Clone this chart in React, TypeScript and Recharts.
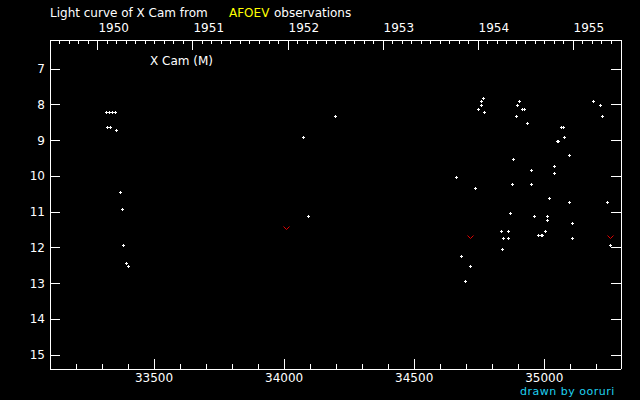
import { ScatterChart, Scatter, XAxis, YAxis } from "recharts";

// visual observations (JD - 2400000, magnitude)
const obsJd = [
  33316, 33327, 33337, 33348, 33320, 33331, 33354, 33369, 33377, 33381, 33392, 33400,
  34196, 34073, 34092,
  34765, 34758, 34758, 34746, 34769, 34904, 34896, 34915, 34923, 34892, 34935,
  35188, 35215, 35223, 35065, 35073, 35077, 35050, 35054, 35096, 34881, 34950,
  35038, 35038, 34662, 34735, 34877, 34950, 35019, 35096, 35242, 34869, 34962,
  35012, 35012, 35108, 34835, 34862, 35004, 34977, 34988, 34992, 34842, 34862,
  35108, 34838, 35254, 34681, 34715, 34696,
];
const obsMag = [
  8.21, 8.21, 8.21, 8.21, 8.64, 8.64, 8.72, 10.44, 10.93, 11.94, 12.44, 12.53,
  8.33, 8.92, 11.13,
  7.83, 7.91, 8.03, 8.14, 8.22, 7.91, 8.03, 8.14, 8.14, 8.33, 8.53,
  7.91, 8.03, 8.33, 8.64, 8.64, 8.92, 9.03, 9.03, 9.42, 9.54, 9.84,
  9.73, 9.93, 10.04, 10.35, 10.24, 10.24, 10.63, 10.74, 10.74, 11.05, 11.13,
  11.13, 11.24, 11.32, 11.55, 11.55, 11.55, 11.64, 11.64, 11.64, 11.75, 11.75,
  11.75, 12.05, 11.94, 12.25, 12.53, 12.95,
];

// "fainter than" observations
const limitJd = [34008, 34714, 35252];
const limitMag = [11.46, 11.71, 11.72];

const jdLabels = [33500, 34000, 34500, 35000];
const yearLabels = [1950, 1951, 1952, 1953, 1954, 1955];
const magTicks = [7, 8, 9, 10, 11, 12, 13, 14, 15];

const JD_DOMAIN: [number, number] = [33100, 35295];
const MAG_DOMAIN: [number, number] = [6.2, 15.4];
const JD_1950 = 33282.5;
const FONT = "'DejaVu Sans', sans-serif";

const jdFromYear = (y: number) => JD_1950 + (y - 1950) * 365.25;
const yearFromJd = (jd: number) => 1950 + (jd - JD_1950) / 365.25;

const obsData = obsJd.map((jd, i) => ({ jd, mag: obsMag[i] }));
const limitData = limitJd.map((jd, i) => ({ jd, mag: limitMag[i] }));

const jdTicks: number[] = [];
for (let v = 33200; v <= 35200; v += 100) jdTicks.push(v);

const yearTicks: number[] = [];
for (let i = -4; i <= 54; i++) yearTicks.push(jdFromYear(1950 + i / 10));

const px = (v: number) => Math.round(v) + 0.5;

const Plus = (props: any) => {
  const x = Math.round(props.cx);
  const y = Math.round(props.cy);
  return (
    <g fill="#fff" shapeRendering="crispEdges">
      <rect x={x - 1} y={y} width={3} height={1} />
      <rect x={x} y={y - 1} width={1} height={3} />
    </g>
  );
};

const Vee = (props: any) => {
  const x = Math.round(props.cx) + 0.5;
  const y = Math.round(props.cy) + 0.5;
  return (
    <polyline
      points={`${x - 3},${y - 2} ${x},${y + 1} ${x + 3},${y - 2}`}
      fill="none"
      stroke="#e00000"
      strokeWidth={1}
    />
  );
};

const BottomTick = ({ x, y, payload }: any) => {
  const major = jdLabels.includes(payload.value);
  return (
    <g>
      <line x1={px(x)} x2={px(x)} y1={y} y2={y - (major ? 10 : 5)} stroke="#fff" shapeRendering="crispEdges" />
      {major && (
        <text x={x} y={y + 13} textAnchor="middle" fill="#fff" fontSize={12} fontFamily={FONT}>
          {payload.value}
        </text>
      )}
    </g>
  );
};

const TopTick = ({ x, y, payload }: any) => {
  const yr = yearFromJd(payload.value);
  const major = yearLabels.some((l) => Math.abs(yr - l) < 1e-6);
  return (
    <g>
      <line x1={px(x)} x2={px(x)} y1={y} y2={y + (major ? 10 : 4)} stroke="#fff" shapeRendering="crispEdges" />
      {major && (
        <text x={x + 1} y={y - 8} textAnchor="start" fill="#fff" fontSize={12} fontFamily={FONT}>
          {Math.round(yr)}
        </text>
      )}
    </g>
  );
};

const LeftTick = ({ x, y, payload }: any) => (
  <g>
    <line x1={x} x2={x + 10} y1={px(y)} y2={px(y)} stroke="#fff" shapeRendering="crispEdges" />
    <text x={x - 5} y={y + 4.5} textAnchor="end" fill="#fff" fontSize={12} fontFamily={FONT}>
      {payload.value}
    </text>
  </g>
);

const RightTick = ({ x, y }: any) => (
  <line x1={x - 10} x2={x} y1={px(y)} y2={px(y)} stroke="#fff" shapeRendering="crispEdges" />
);

const axisLine = { stroke: "#fff", shapeRendering: "crispEdges" } as any;

export default function App() {
  return (
    <div style={{ position: "relative", width: 640, height: 400, background: "#000" }}>
      <style>{"body{margin:0;background:#000}"}</style>
      <ScatterChart width={640} height={400} margin={{ top: 39, right: 18, bottom: 30, left: 49 }}>
        <XAxis
          xAxisId="bottom"
          dataKey="jd"
          type="number"
          domain={JD_DOMAIN}
          allowDataOverflow
          ticks={jdTicks}
          interval={0}
          height={1}
          tickSize={0}
          tickMargin={0}
          tickLine={false}
          axisLine={axisLine}
          tick={<BottomTick />}
        />
        <XAxis
          xAxisId="top"
          orientation="top"
          dataKey="jd"
          type="number"
          domain={JD_DOMAIN}
          allowDataOverflow
          ticks={yearTicks}
          interval={0}
          height={1}
          tickSize={0}
          tickMargin={0}
          tickLine={false}
          axisLine={axisLine}
          tick={<TopTick />}
        />
        <YAxis
          yAxisId="left"
          dataKey="mag"
          type="number"
          domain={MAG_DOMAIN}
          reversed
          allowDataOverflow
          ticks={magTicks}
          interval={0}
          width={1}
          tickSize={0}
          tickMargin={0}
          tickLine={false}
          axisLine={axisLine}
          tick={<LeftTick />}
        />
        <YAxis
          yAxisId="right"
          orientation="right"
          dataKey="mag"
          type="number"
          domain={MAG_DOMAIN}
          reversed
          allowDataOverflow
          ticks={magTicks}
          interval={0}
          width={1}
          tickSize={0}
          tickMargin={0}
          tickLine={false}
          axisLine={axisLine}
          tick={<RightTick />}
        />
        <Scatter
          data={obsData}
          xAxisId="bottom"
          yAxisId="left"
          shape={<Plus />}
          isAnimationActive={false}
        />
        <Scatter
          data={limitData}
          xAxisId="bottom"
          yAxisId="left"
          shape={<Vee />}
          isAnimationActive={false}
        />
      </ScatterChart>
      <svg
        width={640}
        height={400}
        style={{ position: "absolute", left: 0, top: 0, pointerEvents: "none" }}
        fontFamily={FONT}
        fontSize={12}
      >
        <text x={50} y={16.5} fill="#fff">Light curve of X Cam from</text>
        <text x={229} y={16.5} fill="#ffff00">AFOEV</text>
        <text x={274} y={16.5} fill="#fff">observations</text>
        <text x={150} y={64.5} fill="#fff">X Cam (M)</text>
        <text x={520} y={395} fill="#1fd0f0" fontSize={11} letterSpacing={0.5}>
          drawn by ooruri
        </text>
      </svg>
    </div>
  );
}
